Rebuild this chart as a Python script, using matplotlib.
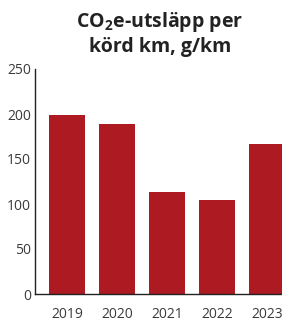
import matplotlib
matplotlib.use("Agg")
import matplotlib.pyplot as plt

years = ["2019", "2020", "2021", "2022", "2023"]
values = [199, 189, 113, 104, 167]
yticks = [0, 50, 100, 150, 200, 250]

plt.rcParams['font.family'] = ['Open Sans', 'DejaVu Sans']
plt.rcParams['mathtext.fontset'] = 'custom'
plt.rcParams['mathtext.rm'] = 'Open Sans'
plt.rcParams['mathtext.bf'] = 'Open Sans:bold'

fig = plt.figure(figsize=(2.82, 3.2), dpi=100)
W, H = 282, 320
left = 35 / W
bottom = (H - 294) / H
height = (294 - 69) / H
xmin = -0.64
xmax = 4.5
width = (xmax - xmin) * 50 / W
ax = fig.add_axes([left, bottom, width, height])

x = list(range(len(years)))
ax.bar(x, values, width=0.72, color="#AD1A21", zorder=2)
ax.set_xlim(xmin, xmax)
ax.set_ylim(0, 250)
ax.set_yticks(yticks)
ax.set_xticks(x)
ax.set_xticklabels(years)
ax.tick_params(axis='both', length=0, colors="#3a3a3a", labelsize=10)
ax.tick_params(axis='y', pad=3)
ax.tick_params(axis='x', pad=9)
for s in ['top', 'right']:
    ax.spines[s].set_visible(False)
for s in ['left', 'bottom']:
    ax.spines[s].set_color("#222222")
    ax.spines[s].set_linewidth(1.0)

fig.text(160 / W, 1 - 22 / H, r'CO$_\mathbf{2}$e-utsläpp per', ha='center', va='center',
         fontsize=14, fontweight='bold', color="#222222")
fig.text(160 / W, 1 - 47 / H, 'körd km, g/km', ha='center', va='center',
         fontsize=14, fontweight='bold', color="#222222")

fig.savefig("out.png", dpi=100)
